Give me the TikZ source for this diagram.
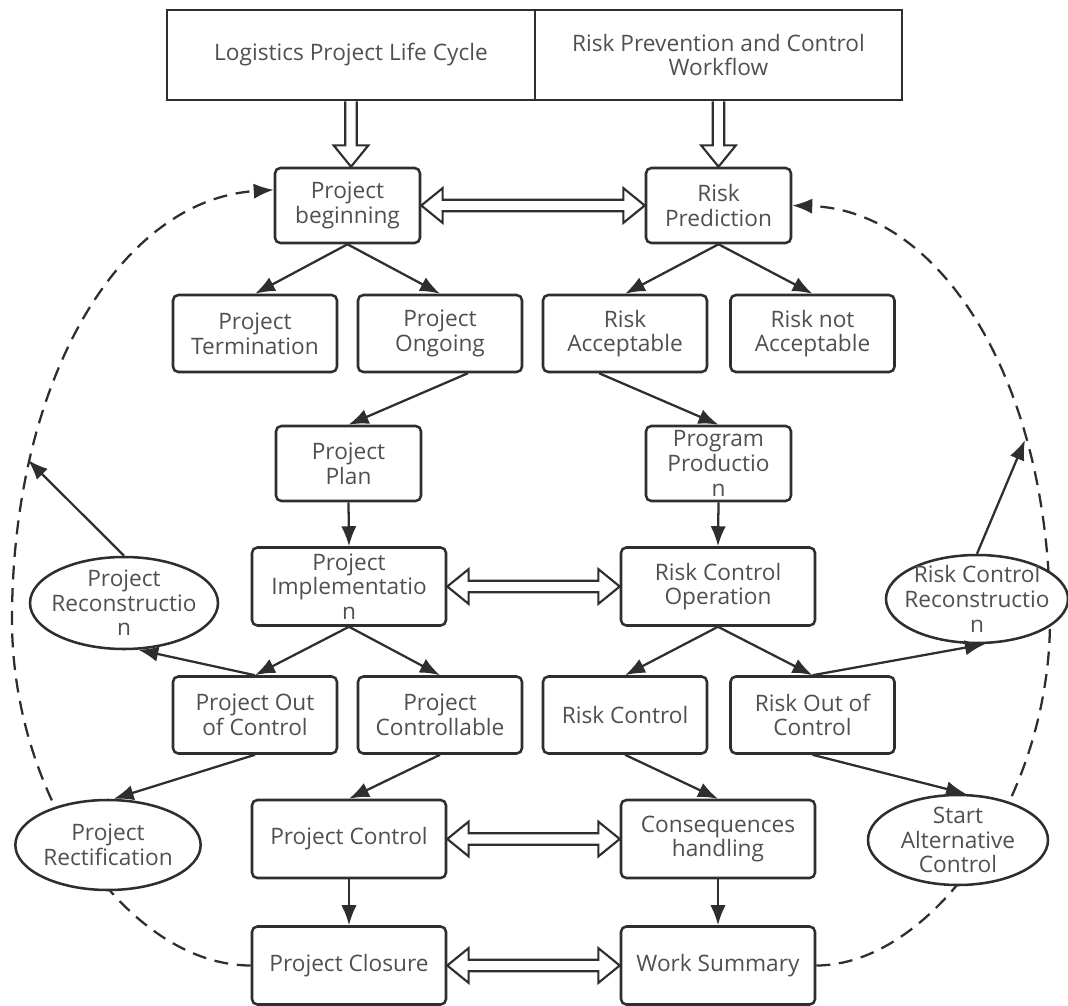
\documentclass[tikz,border=0pt]{standalone}
\usepackage{fontspec}
\setmainfont{Open Sans}
\usetikzlibrary{arrows.meta,shapes.geometric,calc}
\definecolor{ink}{HTML}{2E2E2E}
\definecolor{txt}{HTML}{505050}
\pgfdeclarelayer{bg}
\pgfsetlayers{bg,main}

% open block arrow with heads at both ends, from #1.east to #2.west
\newcommand\hollowpair[2]{%
  \draw[hollow] let \p1=(#1.east), \p2=(#2.west) in
    (\x1,\y1) -- ({\x1+16pt},{\y1+13pt}) -- ({\x1+16pt},{\y1+4.3pt})
    -- ({\x2-16pt},{\y1+4.3pt}) -- ({\x2-16pt},{\y1+13pt}) -- (\x2,\y1)
    -- ({\x2-16pt},{\y1-13pt}) -- ({\x2-16pt},{\y1-4.3pt})
    -- ({\x1+16pt},{\y1-4.3pt}) -- ({\x1+16pt},{\y1-13pt}) -- cycle;}
% open block arrow pointing down, from #1.south to the top of #2
\newcommand\hollowdown[2]{%
  \draw[hollow] let \p1=(#1.south), \p2=(#2.north) in
    ({\x1-4.3pt},\y1) -- ({\x1-4.3pt},{\y2+16pt}) -- ({\x1-13pt},{\y2+16pt})
    -- (\x1,\y2) -- ({\x1+13pt},{\y2+16pt}) -- ({\x1+4.3pt},{\y2+16pt})
    -- ({\x1+4.3pt},\y1);}

\begin{document}
\begin{tikzpicture}[x=0.75pt,y=-0.75pt,
  every node/.style={font=\fontsize{17}{18.5}\selectfont, text=txt, align=center},
  box/.style={draw=ink, line width=1.9pt, rounded corners=4pt, fill=white, inner sep=0pt},
  smallbox/.style={box, minimum width=108.75pt, minimum height=56.25pt},
  midbox/.style={box, minimum width=123pt, minimum height=57.75pt},
  widebox/.style={box, minimum width=145.5pt, minimum height=58.5pt},
  headbox/.style={draw=ink, line width=1.9pt, minimum width=276pt, minimum height=67.5pt, inner sep=0pt},
  oval/.style={ellipse, draw=ink, line width=1.9pt, fill=white, inner sep=0pt},
  arr/.style={draw=ink, line width=1.7pt, -{Latex[length=15pt,width=11.5pt]}},
  dashedloop/.style={draw=ink, line width=1.7pt, dash pattern=on 10.5pt off 6.5pt, -{Latex[length=15pt,width=11.5pt]}},
  hollow/.style={draw=ink, line width=1.6pt, fill=white, line join=miter},
]
\useasboundingbox (0,0) rectangle (1068,1006);

% header
\node[headbox] (TL) at (351,55) {Logistics Project Life Cycle};
\node[headbox, minimum width=275.25pt] (TR) at (718.5,55) {Risk Prevention and Control\\Workflow};

% project life cycle column
\node[smallbox] (PB) at (347.5,205.5) {Project\\beginning};
\node[midbox] (PT) at (255,333.5) {Project\\Termination};
\node[midbox] (PO) at (440,333.5) {Project\\Ongoing};
\node[smallbox] (PP) at (348.5,463.5) {Project\\Plan};
\node[widebox] (PI) at (349,586.5) {Project\\Implementatio\\n};
\node[midbox] (POC) at (255,715) {Project Out\\of Control};
\node[midbox] (PCt) at (440,715) {Project\\Controllable};
\node[widebox] (PCo) at (349,839) {Project Control};
\node[widebox] (PCl) at (349,965.5) {Project Closure};

% risk workflow column
\node[smallbox] (RP) at (718.5,205.5) {Risk\\Prediction};
\node[midbox] (RA) at (625,333.5) {Risk\\Acceptable};
\node[midbox] (RN) at (812.5,333.5) {Risk not\\Acceptable};
\node[smallbox] (PrP) at (718.5,463.5) {Program\\Productio\\n};
\node[widebox] (RCO) at (718,586.5) {Risk Control\\Operation};
\node[midbox] (RC) at (625,715) {Risk Control};
\node[midbox] (ROC) at (812.5,715) {Risk Out of\\Control};
\node[widebox] (CH) at (718,839) {Consequences\\handling};
\node[widebox] (WS) at (718,965.5) {Work Summary};

% side actions
\node[oval, minimum width=141pt, minimum height=69pt,
  label={[align=center]center:Project\\Reconstructio\\n}] (PRc) at (124,603) {};
\node[oval, minimum width=139pt, minimum height=67.5pt,
  label={[align=center]center:Project\\Rectification}] (PRe) at (108,845) {};
\node[oval, minimum width=136.5pt, minimum height=66pt,
  label={[align=center]center:Risk Control\\Reconstructio\\n}] (RCR) at (977,599) {};
\node[oval, minimum width=135pt, minimum height=67.5pt,
  label={[align=center]center:Start\\Alternative\\Control}] (SAC) at (958,840) {};

% feedback loops
\coordinate (Lmid) at (12,620);
\coordinate (Rmid) at (1050,620);
\coordinate (Lhit) at (28,460);
\coordinate (Rhit) at (1025,440);
\begin{pgfonlayer}{bg}
\draw[dashedloop] (PCl.west) .. controls (130,965.5) and (12,800) .. (Lmid)
  .. controls (12,380) and (120,200) .. (PB.168);
\draw[dashedloop] (WS.east) .. controls (930,965.5) and (1050,800) .. (Rmid)
  .. controls (1050,380) and (940,210) .. (RP.east);
\end{pgfonlayer}

% block arrows
\hollowdown{TL}{PB}
\hollowdown{TR}{RP}
\hollowpair{PB}{RP}
\hollowpair{PI}{RCO}
\hollowpair{PCo}{CH}
\hollowpair{PCl}{WS}

% flow arrows
\draw[arr] (PB.south) -- (PT.north);
\draw[arr] (PB.south) -- (PO.north);
\draw[arr] (RP.south) -- (RA.north);
\draw[arr] (RP.south) -- (RN.north);
\draw[arr] (PO.-55) -- (PP.north);
\draw[arr] (RA.-123) -- (PrP.north);
\draw[arr] (PP.south) -- (PI.north);
\draw[arr] (PrP.south) -- (RCO.north);
\draw[arr] (PI.south) -- (POC.north);
\draw[arr] (PI.south) -- (PCt.north);
\draw[arr] (RCO.south) -- (RC.north);
\draw[arr] (RCO.south) -- (ROC.north);
\draw[arr] (POC.north) -- (PRc.-73);
\draw[arr] (PRc.north) -- (Lhit);
\draw[arr] (ROC.north) -- (RCR.-80);
\draw[arr] (RCR.north) -- (Rhit);
\draw[arr] (POC.south) -- (PRe.83);
\draw[arr] (PCt.south) -- (PCo.north);
\draw[arr] (RC.south) -- (CH.north);
\draw[arr] (ROC.south) -- (SAC.80);
\draw[arr] (PCo.south) -- (PCl.north);
\draw[arr] (CH.south) -- (WS.north);
\end{tikzpicture}
\end{document}
